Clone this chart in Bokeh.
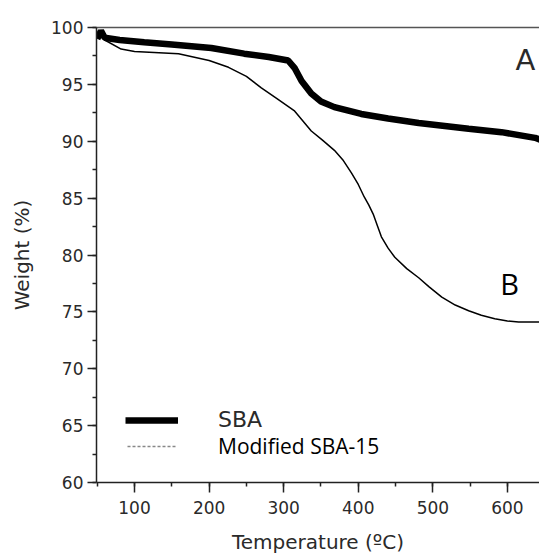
from bokeh.plotting import figure
from bokeh.models import (Range1d, SingleIntervalTicker, LinearAxis, FixedTicker,
                          Legend, LegendItem, Label)
from bokeh.embed import file_html
from bokeh.resources import INLINE

# ---- data ----
sba_temp = [50, 55, 60, 80, 113, 150, 203, 247, 280, 306, 315, 324, 337, 350,
            368, 404, 440, 481, 548, 592, 637, 645]
sba_weight = [99.0, 99.7, 99.1, 98.9, 98.7, 98.5, 98.2, 97.7, 97.4, 97.1, 96.4,
              95.3, 94.2, 93.5, 93.0, 92.4, 92.0, 91.6, 91.1, 90.8, 90.3, 90.1]

mod_temp = [50, 55, 60, 82, 100, 159, 200, 226, 250, 270, 290, 314, 337, 352,
            368, 380, 391, 400, 408, 414, 420, 426, 431, 440, 449, 465, 481,
            495, 512, 530, 548, 565, 583, 600, 615, 645]
mod_weight = [99.2, 99.7, 98.9, 98.1, 97.9, 97.7, 97.1, 96.5, 95.7, 94.7, 93.8,
              92.7, 90.9, 90.1, 89.2, 88.3, 87.2, 86.2, 85.1, 84.4, 83.6, 82.5,
              81.6, 80.6, 79.8, 78.8, 78.0, 77.2, 76.3, 75.6, 75.1, 74.7, 74.4,
              74.2, 74.1, 74.1]

series_names = ["SBA", "Modified SBA-15"]
x_title = "Temperature (ºC)"
y_title = "Weight (%)"
panel_labels = ["A", "B"]
panel_label_x = [624, 603]
panel_label_y = [97.1, 77.5]

TICK_FONT = "DejaVu Sans"

p = figure(frame_width=443, frame_height=455,
           x_range=Range1d(49, 643), y_range=Range1d(60, 100),
           output_backend="svg", toolbar_location=None,
           min_border_left=96, min_border_top=27, min_border_right=0,
           min_border_bottom=74)
p.outline_line_color = None
p.grid.visible = False
p.background_fill_color = "white"
p.border_fill_color = "white"

# axes
for ax in (p.xaxis[0], p.yaxis[0]):
    ax.axis_line_color = "#222222"
    ax.axis_line_width = 1.5
    ax.major_tick_line_color = "#222222"
    ax.major_tick_line_width = 1.5
    ax.minor_tick_line_color = "#222222"
    ax.minor_tick_line_width = 1.5
    ax.major_tick_in = 0
    ax.minor_tick_in = 0
    ax.major_label_text_font = TICK_FONT
    ax.major_label_text_font_size = "17px"
    ax.major_label_text_color = "#2a2a2a"
    ax.axis_label_text_font = TICK_FONT
    ax.axis_label_text_font_size = "20px"
    ax.axis_label_text_font_style = "normal"
    ax.axis_label_text_color = "#2a2a2a"

p.xaxis.ticker = SingleIntervalTicker(interval=100, num_minor_ticks=2)
p.yaxis.ticker = SingleIntervalTicker(interval=5, num_minor_ticks=2)
p.xaxis.major_tick_out = 10
p.xaxis.minor_tick_out = 4
p.yaxis.major_tick_out = 9
p.yaxis.minor_tick_out = 4
p.xaxis.axis_label = x_title
p.yaxis.axis_label = y_title
p.xaxis.major_label_standoff = 8
p.yaxis.major_label_standoff = 4
p.xaxis.axis_label_standoff = 13
p.yaxis.axis_label_standoff = 14

top = LinearAxis(ticker=FixedTicker(ticks=[]), axis_line_color="#555555",
                 axis_line_width=1.5, major_tick_line_color=None,
                 minor_tick_line_color=None, major_label_text_font_size="0px")
p.add_layout(top, "above")

# curves
r_sba = p.line(sba_temp, sba_weight, line_color="black", line_width=6.5)
r_mod = p.line(mod_temp, mod_weight, line_color="black", line_width=1.5)
r_mod_key = p.line([float("nan")], [float("nan")], line_color="#888888",
                   line_width=1.5, line_dash="3 2")

leg1 = Legend(items=[LegendItem(label=series_names[0], renderers=[r_sba])],
              location=(29, 50), glyph_width=53, glyph_height=20,
              label_height=20, label_standoff=40, padding=0, margin=0,
              border_line_color=None, background_fill_alpha=0,
              label_text_font=TICK_FONT, label_text_font_size="22px",
              label_text_color="#2a2a2a")
leg2 = Legend(items=[LegendItem(label=series_names[1], renderers=[r_mod_key])],
              location=(31, 22), glyph_width=49, glyph_height=20,
              label_height=20, label_standoff=42, padding=0, margin=0,
              border_line_color=None, background_fill_alpha=0,
              label_text_font="Open Sans", label_text_font_size="21px",
              label_text_color="black")
p.add_layout(leg1, "center")
p.add_layout(leg2, "center")

p.add_layout(Label(x=panel_label_x[0], y=panel_label_y[0], text=panel_labels[0],
                   text_font=TICK_FONT, text_font_size="29px",
                   text_color="#2a2a2a", text_align="center",
                   text_baseline="alphabetic"))
p.add_layout(Label(x=panel_label_x[1], y=panel_label_y[1], text=panel_labels[1],
                   text_font="Open Sans", text_font_size="29px",
                   text_color="black", text_align="center",
                   text_baseline="alphabetic"))

open("out.html", "w").write(file_html(p, INLINE))
